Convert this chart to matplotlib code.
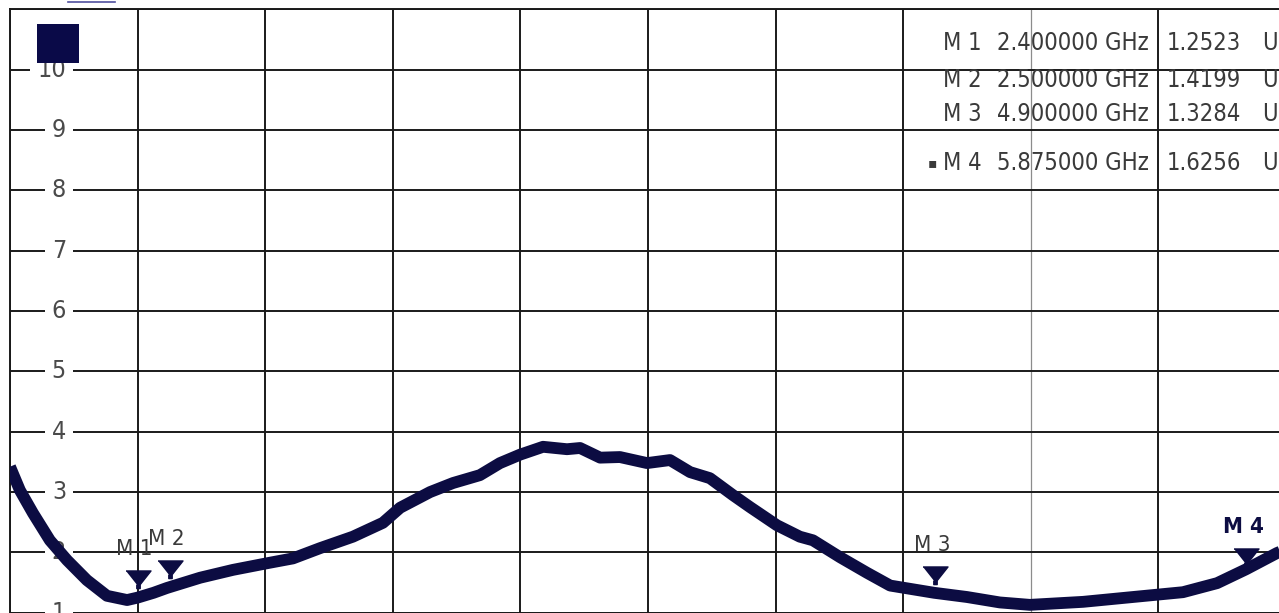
import matplotlib
matplotlib.use("Agg")
import matplotlib.pyplot as plt
import matplotlib.transforms as mtrans
from matplotlib import font_manager
from matplotlib.patches import Rectangle
from matplotlib.lines import Line2D
import numpy as np

# 周波数 [GHz] と SWR
freq = [2.000, 2.031, 2.072, 2.125, 2.179, 2.241, 2.304, 2.367, 2.400, 2.450,
        2.492, 2.596, 2.699, 2.806, 2.887, 2.972, 3.075, 3.169, 3.223, 3.317,
        3.389, 3.473, 3.536, 3.599, 3.671, 3.746, 3.787, 3.850, 3.912, 3.997,
        4.069, 4.132, 4.194, 4.266, 4.320, 4.404, 4.476, 4.517, 4.602, 4.687,
        4.759, 4.897, 5.000, 5.103, 5.197, 5.364, 5.520, 5.677, 5.784, 5.875,
        5.972, 5.995]
swr = [3.42, 3.03, 2.65, 2.20, 1.87, 1.54, 1.28, 1.21, 1.25, 1.33,
       1.41, 1.58, 1.71, 1.82, 1.90, 2.07, 2.26, 2.49, 2.74, 3.00,
       3.15, 3.28, 3.48, 3.62, 3.75, 3.71, 3.73, 3.57, 3.58, 3.48,
       3.53, 3.33, 3.23, 2.95, 2.75, 2.45, 2.26, 2.20, 1.92, 1.66,
       1.45, 1.33, 1.26, 1.17, 1.13, 1.18, 1.26, 1.34, 1.49, 1.72,
       1.99, 2.04]

# マーカー
mk_names = ["M 1", "M 2", "M 3", "M 4"]
mk_freq = [2.4, 2.5, 4.9, 5.875]
mk_swr = [1.2523, 1.4199, 1.3284, 1.6256]
mk_freq_txt = ["2.400000 GHz", "2.500000 GHz", "4.900000 GHz", "5.875000 GHz"]
mk_val_txt = ["1.2523", "1.4199", "1.3284", "1.6256"]
mk_unit = ["U", "U", "U", "U"]

y_ticks = [1, 2, 3, 4, 5, 6, 7, 8, 9, 10]

W, H = 1279, 613
navy = "#0c0c42"
txt_col = "#3a3a3a"

names = {f.name for f in font_manager.fontManager.ttflist}
if "Liberation Sans Narrow" in names:
    fnt = dict(family="Liberation Sans Narrow")
else:
    fnt = dict(family="DejaVu Sans", stretch="condensed")

fig = plt.figure(figsize=(W / 100, H / 100), dpi=100)
# 右端は画像の外まで続く
ax = fig.add_axes([10 / W, 0.3 / H, 1276 / W, 603.3 / H])
ax.set_xlim(2.0, 6.0)
ax.set_ylim(1, 11)
ax.set_xticks(np.arange(2.0, 6.01, 0.4))
ax.set_yticks(np.arange(1, 12, 1))
ax.tick_params(length=0, labelleft=False, labelbottom=False)
ax.grid(True, color="#1a1a1a", lw=1.4)
ax.get_xgridlines()[8].set(color="#8c8c8c", lw=0.9)
for s in ax.spines.values():
    s.set_color("#1a1a1a")
    s.set_linewidth(1.4)

# SWR カーブ
ax.plot(freq, swr, color=navy, lw=8.5, solid_capstyle="butt", zorder=4)

# マーカー (三角形と名前)
tri = [(-1.1, 0.75), (1.1, 0.75), (0.15, -0.45), (0.15, -0.8), (-0.15, -0.8), (-0.15, -0.45)]
tri_tr = mtrans.offset_copy(ax.transData, fig=fig, x=0, y=18, units="dots")
lab_tr = mtrans.offset_copy(ax.transData, fig=fig, x=-3, y=48, units="dots")
for i, (n, f, v) in enumerate(zip(mk_names, mk_freq, mk_swr)):
    ax.plot([f], [v], marker=tri, ms=18, color=navy, mec=navy, transform=tri_tr, zorder=5)
    ax.text(f, v, n, transform=lab_tr, ha="center", va="center", fontsize=16,
            color=navy if i == 3 else txt_col, fontweight="bold" if i == 3 else "normal",
            zorder=5, **fnt)

# Y 軸ラベル (グリッド内)
ytr = mtrans.blended_transform_factory(ax.transAxes, ax.transData)
for t in y_ticks:
    ax.text(56 / 1276, t, str(t), transform=ytr, ha="right", va="center", fontsize=18,
            color="#4a4a4a", zorder=3,
            bbox=dict(facecolor="white", edgecolor="none", pad=5), **fnt)

# 左上の四角
fig.add_artist(Rectangle((37 / W, 1 - 63 / H), 42 / W, 39 / H, transform=fig.transFigure,
                         facecolor="#0a0a48", edgecolor="none", zorder=10))
fig.add_artist(Line2D([68 / W, 115 / W], [1 - 1.5 / H, 1 - 1.5 / H], transform=fig.transFigure,
                      color="#5050a0", lw=1.2))

# マーカー表
rows_y = [43, 80, 114, 163]
for n, ft, vt, u, yy in zip(mk_names, mk_freq_txt, mk_val_txt, mk_unit, rows_y):
    yf = 1 - yy / H
    fig.text(943 / W, yf, n, ha="left", va="center", fontsize=17, color=txt_col, **fnt)
    fig.text(997 / W, yf, ft, ha="left", va="center", fontsize=17, color=txt_col, **fnt)
    fig.text(1167 / W, yf, vt, ha="left", va="center", fontsize=17, color=txt_col, **fnt)
    fig.text(1262 / W, yf, u, ha="left", va="center", fontsize=17, color=txt_col, **fnt)
fig.text(928 / W, 1 - rows_y[3] / H, "\u25aa", ha="left", va="center", fontsize=10,
         color=txt_col, family="DejaVu Sans")

fig.savefig("out.png", dpi=100)
